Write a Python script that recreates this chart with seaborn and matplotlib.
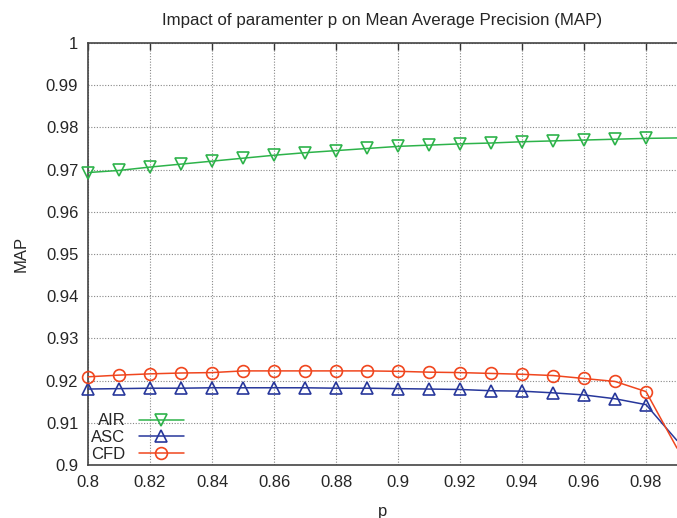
import numpy as np
import pandas as pd
import matplotlib
matplotlib.use("Agg")
import matplotlib.pyplot as plt
from matplotlib.ticker import FuncFormatter
import seaborn as sns

# values
p_values = [0.80, 0.81, 0.82, 0.83, 0.84, 0.85, 0.86, 0.87, 0.88, 0.89,
            0.90, 0.91, 0.92, 0.93, 0.94, 0.95, 0.96, 0.97, 0.98, 0.99]
air = [0.9693, 0.9698, 0.9706, 0.9713, 0.9720, 0.9727, 0.9734, 0.9740, 0.9745, 0.9750,
       0.9755, 0.9758, 0.9761, 0.9763, 0.9766, 0.9768, 0.9770, 0.9772, 0.9774, 0.9775]
asc = [0.9180, 0.9181, 0.9182, 0.9182, 0.9183, 0.9183, 0.9183, 0.9183, 0.9182, 0.9182,
       0.9181, 0.9180, 0.9179, 0.9176, 0.9175, 0.9171, 0.9166, 0.9157, 0.9143, 0.9058]
cfd = [0.9209, 0.9213, 0.9216, 0.9218, 0.9219, 0.9223, 0.9223, 0.9223, 0.9223, 0.9223,
       0.9222, 0.9220, 0.9219, 0.9217, 0.9215, 0.9212, 0.9205, 0.9198, 0.9174, 0.9040]
series_names = ["AIR", "ASC", "CFD"]
x_ticks = [0.8, 0.82, 0.84, 0.86, 0.88, 0.9, 0.92, 0.94, 0.96, 0.98]
y_ticks = [0.9, 0.91, 0.92, 0.93, 0.94, 0.95, 0.96, 0.97, 0.98, 0.99, 1.0]

df = pd.DataFrame({"p": p_values, "AIR": air, "ASC": asc, "CFD": cfd})

sns.set_style("white")
plt.rcParams['font.family'] = ['Liberation Sans', 'DejaVu Sans']

fig = plt.figure(figsize=(6.77, 5.18), dpi=100)
ax = fig.add_axes([0.130, 0.1023, 0.870, 0.8147])

colors = {"AIR": "#2db34a", "ASC": "#27379b", "CFD": "#f0461e"}
markers = {"AIR": "v", "ASC": "^", "CFD": "o"}

# the last point sits on the cut-off right edge, no marker there
n_marked = len(p_values) - 1
for name in series_names:
    sns.lineplot(data=df, x="p", y=name, ax=ax, color=colors[name], label=name,
                 marker=markers[name], markersize=8.5, markerfacecolor="none",
                 markeredgecolor=colors[name], markeredgewidth=1.2, linewidth=1.1,
                 markevery=list(range(n_marked)), clip_on=False, zorder=3)

ax.set_xlim(0.8, 0.99)
ax.set_ylim(0.9, 1.0)
ax.set_xticks(x_ticks)
ax.set_yticks(y_ticks)
ax.xaxis.set_major_formatter(FuncFormatter(lambda v, _: f"{v:g}"))
ax.yaxis.set_major_formatter(FuncFormatter(lambda v, _: f"{v:g}"))
ax.tick_params(axis="both", direction="in", length=5, width=1, color="#333333",
               labelsize=12, top=True, pad=7)
ax.grid(True, linestyle=(0, (1, 1.5)), color="#888888", linewidth=0.8)

for side in ["left", "top", "bottom"]:
    ax.spines[side].set_color("#444444")
    ax.spines[side].set_linewidth(1.2)
ax.spines["right"].set_visible(False)

ax.set_xlabel("p", fontsize=12, labelpad=10)
ax.set_ylabel("MAP", fontsize=12, labelpad=12)
ax.set_title("Impact of paramenter p on Mean Average Precision (MAP)", fontsize=12.2, pad=13)

ax.legend(loc="lower left", bbox_to_anchor=(0.0, 0.0), frameon=False, markerfirst=False,
          handlelength=2.7, fontsize=12, labelspacing=0.1, borderaxespad=0.0,
          borderpad=0.2)

plt.savefig("out.png", dpi=100)
plt.close()
